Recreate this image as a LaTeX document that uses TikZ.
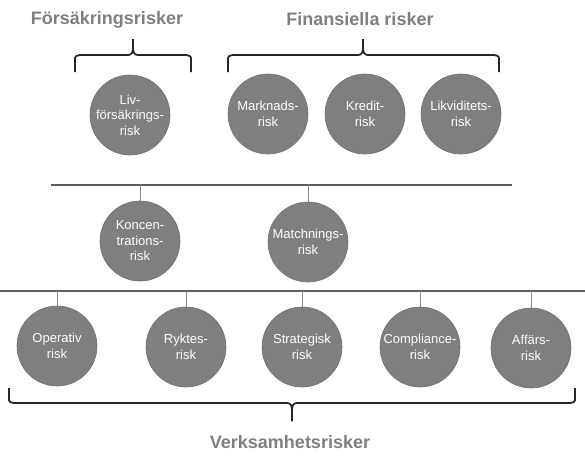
\documentclass[tikz,border=0pt]{standalone}
\usepackage{fontspec}
\setmainfont{Liberation Sans}
\begin{document}
\begin{tikzpicture}[x=1pt,y=-1pt,
  riskc/.style={circle,fill=circfill,draw=circline,line width=0.6pt,minimum size=80pt,inner sep=0pt,
    text=white,align=center,font=\fontsize{13}{15.5}\selectfont},
  title/.style={text=titlegray,font=\bfseries\fontsize{18}{20}\selectfont,inner sep=0pt},
  hline/.style={draw=hlinecol,line width=1.2pt},
  conn/.style={draw=conncol,line width=0.9pt},
  brace/.style={draw=bracecol,line width=1.8pt,line join=round}]
\definecolor{circfill}{HTML}{7F7F7F}
\definecolor{circline}{HTML}{707070}
\definecolor{titlegray}{HTML}{7F7F7F}
\definecolor{hlinecol}{HTML}{5F5F5F}
\definecolor{conncol}{HTML}{8A8A8A}
\definecolor{bracecol}{HTML}{262626}
\useasboundingbox (0,0) rectangle (585,458);

% titles
\node[title] (tforsak) at (107,20) {Försäkringsrisker};
\node[title] (tfinans) at (360,19) {Finansiella risker};
\node[title] (tverks) at (290,442) {Verksamhetsrisker};

% top braces
\draw[brace] (75,72) -- (75,61) .. controls (75,56) .. (80,55) -- (128,55)
  .. controls (132,55) and (133,52) .. (133,47) -- (133,39);
\draw[brace] (133,39) -- (133,47) .. controls (133,52) and (134,55) .. (138,55)
  -- (186,55) .. controls (191,56) .. (191,61) -- (191,72);
\draw[brace] (228,72) -- (228,61) .. controls (228,56) .. (233,55) -- (358,55)
  .. controls (362,55) and (363,52) .. (363,47) -- (363,39);
\draw[brace] (363,39) -- (363,47) .. controls (363,52) and (364,55) .. (368,55)
  -- (494,55) .. controls (499,56) .. (499,61) -- (499,72);

% bottom brace
\draw[brace] (9,388) -- (9,398) .. controls (9,402) .. (14,403) -- (287,403)
  .. controls (291,403) and (292,406) .. (292,411) -- (292,421);
\draw[brace] (292,421) -- (292,411) .. controls (292,406) and (293,403) .. (297,403)
  -- (570,403) .. controls (575,402) .. (575,398) -- (575,388);

% top circles
\node[riskc] (liv) at (130,115) {Liv-\\försäkrings-\\risk};
\node[riskc] (mark) at (268,114) {Marknads-\\risk};
\node[riskc] (kred) at (365,114) {Kredit-\\risk};
\node[riskc] (likv) at (461,114) {Likviditets-\\risk};

% horizontal lines
\coordinate (l1a) at (51,185);
\coordinate (l1b) at (512,185);
\coordinate (l2a) at (0,291);
\coordinate (l2b) at (585,291);
\draw[hline] (l1a) -- (l1b);
\draw[hline] (l2a) -- (l2b);

% middle circles
\node[riskc] (konc) at (140,241) {Koncen-\\trations-\\risk};
\node[riskc] (matc) at (308,242) {Matchnings-\\risk};
\coordinate (ck) at (140,185);
\coordinate (cm) at (308,185);
\draw[conn] (ck) -- (konc.north);
\draw[conn] (cm) -- (matc.north);

% bottom circles
\node[riskc] (oper) at (57,346) {Operativ\\risk};
\node[riskc] (rykt) at (186,347) {Ryktes-\\risk};
\node[riskc] (strat) at (302,347) {Strategisk\\risk};
\node[riskc] (comp) at (420,347) {Compliance-\\risk};
\node[riskc] (affa) at (531,348) {Affärs-\\risk};
\foreach \n in {oper,rykt,strat,comp,affa}{
  \coordinate (t\n) at (\n.north |- l2a);
  \draw[conn] (t\n) -- (\n.north);
}
\end{tikzpicture}
\end{document}
